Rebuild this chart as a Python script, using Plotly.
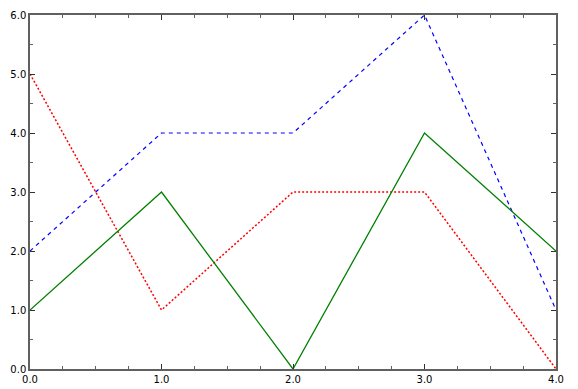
import plotly.graph_objects as go

x_vals = [0, 1, 2, 3, 4]
blue_vals = [2, 4, 4, 6, 1]
red_vals = [5, 1, 3, 3, 0]
green_vals = [1, 3, 0, 4, 2]
x_ticks = [0, 1, 2, 3, 4]
x_tick_labels = ["0.0", "1.0", "2.0", "3.0", "4.0"]
y_ticks = [0, 1, 2, 3, 4, 5, 6]
y_tick_labels = ["0.0", "1.0", "2.0", "3.0", "4.0", "5.0", "6.0"]

fig = go.Figure()
fig.add_trace(go.Scatter(x=x_vals, y=blue_vals, mode="lines",
                         line=dict(color="#0000ff", width=1.2, dash="4px,4px")))
fig.add_trace(go.Scatter(x=x_vals, y=red_vals, mode="lines",
                         line=dict(color="#ff0000", width=1.5, dash="2px,2px")))
fig.add_trace(go.Scatter(x=x_vals, y=green_vals, mode="lines",
                         line=dict(color="#008000", width=1.3)))

axis_common = dict(
    showgrid=False, zeroline=False, showline=True, linecolor="#606060",
    linewidth=1.5, mirror="allticks", ticks="inside", ticklen=5,
    tickcolor="#303030", tickwidth=1, automargin=False,
    tickfont=dict(family="DejaVu Sans", size=10, color="black"),
)

fig.update_xaxes(range=[0, 4], tickvals=x_ticks, ticktext=x_tick_labels,
                 minor=dict(dtick=0.25, ticks="inside", ticklen=3, tickcolor="#606060"),
                 **axis_common)
fig.update_yaxes(range=[0, 6], tickvals=y_ticks, ticktext=y_tick_labels,
                 minor=dict(dtick=0.5, ticks="inside", ticklen=3, tickcolor="#606060"),
                 **axis_common)

fig.update_layout(
    width=578, height=389, showlegend=False,
    margin=dict(l=30, r=22, t=15, b=20, autoexpand=False),
    plot_bgcolor="white", paper_bgcolor="white",
)
fig.write_html("out.html", config={"displayModeBar": False},
               post_script="document.body.style.margin='0';document.body.style.overflow='hidden';")
